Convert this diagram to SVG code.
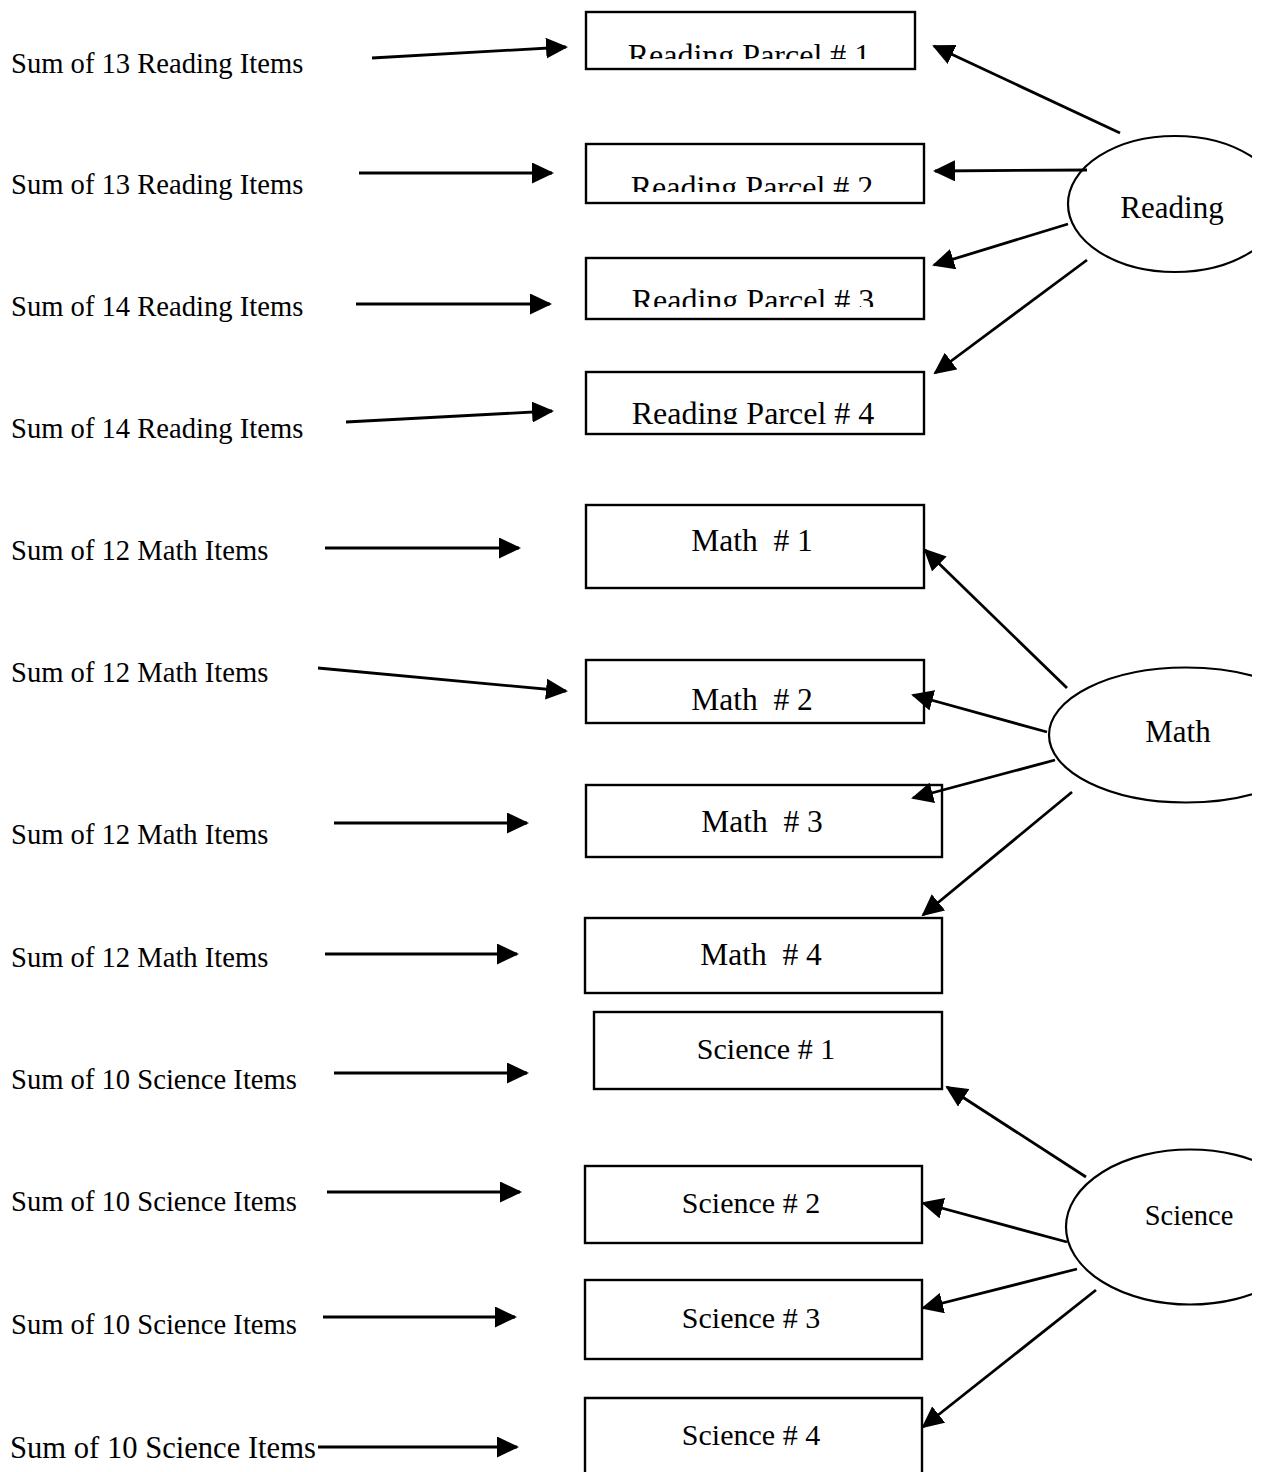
<svg xmlns="http://www.w3.org/2000/svg" width="1263" height="1472" viewBox="0 0 1263 1472">
<style>
.bg{fill:#fff}
.box{fill:none;stroke:#000;stroke-width:2.4}
.ell{fill:none;stroke:#000;stroke-width:2.2}
.lbl{font-family:"Liberation Serif","Times New Roman",serif;fill:#000}
.src{font-size:28.6px}
.bt{font-size:30px;text-anchor:middle}
.rt{font-size:32px;text-anchor:middle}
.mt{font-size:31.5px;text-anchor:middle}
.et{font-size:31px;text-anchor:middle}
.arr{stroke:#000;stroke-width:2.8;fill:none;marker-end:url(#ah)}
</style>
<defs>
<marker id="ah" markerUnits="userSpaceOnUse" markerWidth="22" markerHeight="21" refX="20" refY="10.5" orient="auto" viewBox="0 0 22 21">
<path d="M0,0 L22,10.5 L0,21 Z" fill="#000"/>
</marker>
<clipPath id="c1"><rect x="586" y="12" width="330" height="47"/></clipPath>
<clipPath id="c2"><rect x="586" y="145" width="338" height="47"/></clipPath>
<clipPath id="c3"><rect x="586" y="259" width="338" height="48"/></clipPath>
<clipPath id="c4"><rect x="586" y="373" width="338" height="51"/></clipPath>
<clipPath id="ce"><rect x="0" y="0" width="1252" height="1472"/></clipPath>
</defs>
<rect class="bg" x="0" y="0" width="1263" height="1472"/>

<g id="src-labels">
<text id="s1" class="lbl src" x="11" y="73">Sum of 13 Reading Items</text>
<text id="s2" class="lbl src" x="11" y="194">Sum of 13 Reading Items</text>
<text id="s3" class="lbl src" x="11" y="316">Sum of 14 Reading Items</text>
<text id="s4" class="lbl src" x="11" y="438">Sum of 14 Reading Items</text>
<text id="s5" class="lbl src" x="11" y="560">Sum of 12 Math Items</text>
<text id="s6" class="lbl src" x="11" y="682">Sum of 12 Math Items</text>
<text id="s7" class="lbl src" x="11" y="844">Sum of 12 Math Items</text>
<text id="s8" class="lbl src" x="11" y="967">Sum of 12 Math Items</text>
<text id="s9" class="lbl src" x="11" y="1089">Sum of 10 Science Items</text>
<text id="s10" class="lbl src" x="11" y="1211">Sum of 10 Science Items</text>
<text id="s11" class="lbl src" x="11" y="1334">Sum of 10 Science Items</text>
<text id="s12" class="lbl" x="10" y="1458" style="font-size:30.6px">Sum of 10 Science Items</text>
</g>

<g id="rp1"><rect class="box" x="586" y="12" width="329" height="57"/><text class="lbl rt" x="749" y="66" clip-path="url(#c1)">Reading Parcel # 1</text></g>
<g id="rp2"><rect class="box" x="586" y="144" width="338" height="59"/><text class="lbl rt" x="752" y="198" clip-path="url(#c2)">Reading Parcel # 2</text></g>
<g id="rp3"><rect class="box" x="586" y="258" width="338" height="61"/><text class="lbl rt" x="753" y="311" clip-path="url(#c3)">Reading Parcel # 3</text></g>
<g id="rp4"><rect class="box" x="586" y="372" width="338" height="62"/><text class="lbl rt" x="753" y="424" clip-path="url(#c4)">Reading Parcel # 4</text></g>

<g id="m1"><rect class="box" x="586" y="505" width="338" height="83"/><text class="lbl mt" x="752" y="551" xml:space="preserve">Math  # 1</text></g>
<g id="m2"><rect class="box" x="586" y="660" width="338" height="63"/><text class="lbl mt" x="752" y="710" xml:space="preserve">Math  # 2</text></g>
<g id="m3"><rect class="box" x="586" y="785" width="356" height="72"/><text class="lbl mt" x="762" y="832" xml:space="preserve">Math  # 3</text></g>
<g id="m4"><rect class="box" x="585" y="918" width="357" height="75"/><text class="lbl mt" x="761" y="965" xml:space="preserve">Math  # 4</text></g>

<g id="sc1"><rect class="box" x="594" y="1012" width="348" height="77"/><text class="lbl bt" x="766" y="1059">Science # 1</text></g>
<g id="sc2"><rect class="box" x="585" y="1166" width="337" height="77"/><text class="lbl bt" x="751" y="1213">Science # 2</text></g>
<g id="sc3"><rect class="box" x="585" y="1280" width="337" height="79"/><text class="lbl bt" x="751" y="1328">Science # 3</text></g>
<g id="sc4"><path class="box" d="M585,1474 V1398 H922 V1474"/><text class="lbl bt" x="751" y="1445">Science # 4</text></g>

<g id="reading"><ellipse class="ell" cx="1175" cy="204" rx="107" ry="68" clip-path="url(#ce)"/><text class="lbl et" x="1172" y="218">Reading</text></g>
<g id="math"><ellipse class="ell" cx="1186" cy="735" rx="137" ry="67.5" clip-path="url(#ce)"/><text class="lbl et" x="1178" y="742">Math</text></g>
<g id="science"><ellipse class="ell" cx="1190" cy="1227" rx="124" ry="77.5" clip-path="url(#ce)"/><text class="lbl et" x="1189" y="1225" style="font-size:28.5px">Science</text></g>

<g id="connectors">
<line class="arr" x1="372" y1="58" x2="566" y2="47"/>
<line class="arr" x1="359" y1="173" x2="552" y2="173"/>
<line class="arr" x1="356" y1="304" x2="550" y2="304"/>
<line class="arr" x1="346" y1="422" x2="552" y2="411"/>
<line class="arr" x1="325" y1="548" x2="519" y2="548"/>
<line class="arr" x1="318" y1="668" x2="566" y2="691"/>
<line class="arr" x1="334" y1="823" x2="527" y2="823"/>
<line class="arr" x1="325" y1="954" x2="517" y2="954"/>
<line class="arr" x1="334" y1="1073" x2="527" y2="1073"/>
<line class="arr" x1="327" y1="1192" x2="520" y2="1192"/>
<line class="arr" x1="323" y1="1317" x2="515" y2="1317"/>
<line class="arr" x1="318" y1="1447" x2="517" y2="1447"/>

<line class="arr" x1="1120" y1="133" x2="934" y2="46"/>
<line class="arr" x1="1087" y1="170" x2="935" y2="171"/>
<line class="arr" x1="1068" y1="224" x2="934" y2="265"/>
<line class="arr" x1="1087" y1="260" x2="935" y2="373"/>

<line class="arr" x1="1067" y1="688" x2="925" y2="550"/>
<line class="arr" x1="1047" y1="732" x2="913" y2="695"/>
<line class="arr" x1="1055" y1="760" x2="913" y2="798"/>
<line class="arr" x1="1072" y1="792" x2="923" y2="915"/>

<line class="arr" x1="1086" y1="1177" x2="947" y2="1087"/>
<line class="arr" x1="1067" y1="1242" x2="923" y2="1203"/>
<line class="arr" x1="1077" y1="1269" x2="923" y2="1308"/>
<line class="arr" x1="1096" y1="1290" x2="923" y2="1427"/>
</g>
</svg>
